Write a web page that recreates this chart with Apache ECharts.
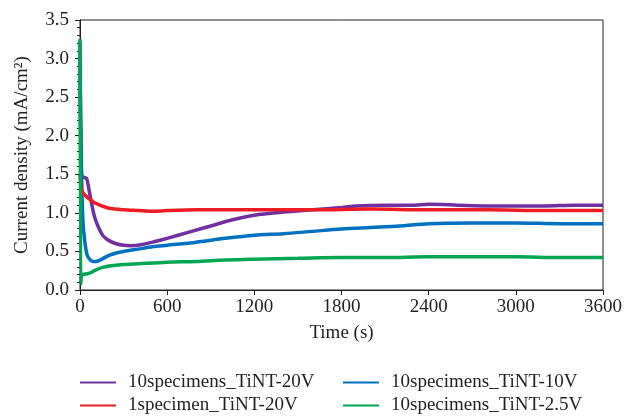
<!DOCTYPE html>
<html>
<head>
<meta charset="utf-8">
<script src="https://cdn.jsdelivr.net/npm/echarts@6/dist/echarts.min.js"></script>
<style>
html,body{margin:0;padding:0;background:#fff;}
#chart{width:625px;height:417px;}
</style>
</head>
<body>
<div id="chart"></div>
<script>
// ---- Data ----
const seriesNames = ['10specimens_TiNT-20V', '10specimens_TiNT-10V', '1specimen_TiNT-20V', '10specimens_TiNT-2.5V'];
const xTicks = [0, 600, 1200, 1800, 2400, 3000, 3600];
const yTicks = [0.0, 0.5, 1.0, 1.5, 2.0, 2.5, 3.0, 3.5];

const timePurple = [0, 10, 25, 45, 60, 80, 100, 130, 160, 200, 250, 300, 350, 400, 500, 600, 750, 900, 1050, 1200, 1400, 1600, 1800, 1900, 2100, 2300, 2400, 2600, 2800, 3000, 3200, 3400, 3600];
const valPurple  = [3.22, 1.5, 1.46, 1.45, 1.32, 1.12, 0.95, 0.8, 0.7, 0.64, 0.6, 0.58, 0.575, 0.58, 0.62, 0.67, 0.75, 0.83, 0.91, 0.97, 1.01, 1.04, 1.07, 1.09, 1.1, 1.1, 1.11, 1.1, 1.09, 1.09, 1.09, 1.1, 1.1];

const timeBlue = [0, 10, 20, 35, 50, 70, 90, 110, 130, 160, 200, 250, 300, 400, 500, 600, 800, 1000, 1200, 1400, 1600, 1800, 2000, 2200, 2400, 2700, 3000, 3300, 3600];
const valBlue  = [3.0, 1.6, 0.9, 0.6, 0.45, 0.39, 0.37, 0.37, 0.38, 0.41, 0.45, 0.48, 0.5, 0.53, 0.56, 0.58, 0.62, 0.67, 0.71, 0.73, 0.76, 0.79, 0.81, 0.83, 0.86, 0.87, 0.87, 0.86, 0.86];

const timeRed = [0, 10, 20, 40, 70, 100, 150, 200, 300, 400, 500, 600, 800, 1000, 1200, 1600, 2000, 2400, 2800, 3200, 3600];
const valRed  = [1.5, 1.3, 1.26, 1.22, 1.17, 1.13, 1.09, 1.06, 1.04, 1.03, 1.02, 1.03, 1.04, 1.04, 1.04, 1.04, 1.05, 1.04, 1.04, 1.03, 1.03];

const timeGreen = [0, 5, 10, 20, 50, 80, 110, 150, 200, 300, 400, 600, 800, 1000, 1200, 1500, 1800, 2100, 2400, 2700, 3000, 3300, 3600];
const valGreen  = [3.25, 0.08, 0.18, 0.2, 0.21, 0.23, 0.26, 0.29, 0.31, 0.33, 0.34, 0.36, 0.37, 0.39, 0.4, 0.41, 0.42, 0.42, 0.43, 0.43, 0.43, 0.42, 0.42];

const colors = ['#7030a0', '#0070c0', '#ee1c25', '#00a651'];

function pairs(t, v) { return t.map((x, i) => [x, v[i]]); }

const chart = echarts.init(document.getElementById('chart'), null, {renderer: 'canvas'});
const FONT = 'Liberation Serif';
const TXT = '#231f20';
const FS = 19;

const dataSets = [pairs(timePurple, valPurple), pairs(timeBlue, valBlue), pairs(timeRed, valRed), pairs(timeGreen, valGreen)];

// legend slots: [left, top] for each series name
const legendPos = [[80, 373], [343, 373], [80, 396], [343, 396]];

chart.setOption({
  animation: false,
  textStyle: {fontFamily: FONT},
  grid: {left: 80, right: 19, top: 20, bottom: 127, show: true, borderColor: '#231f20', borderWidth: 1, backgroundColor: 'transparent'},
  xAxis: {
    type: 'value', min: xTicks[0], max: xTicks[xTicks.length - 1], interval: 600,
    name: 'Time (s)', nameLocation: 'middle', nameGap: 34,
    nameTextStyle: {fontFamily: FONT, fontSize: FS, color: TXT},
    axisLine: {lineStyle: {color: '#231f20', width: 1}},
    axisTick: {show: true, length: 5, lineStyle: {color: '#231f20'}},
    axisLabel: {fontFamily: FONT, fontSize: FS, color: TXT, margin: 8, formatter: v => String(v)},
    splitLine: {show: false}
  },
  yAxis: {
    type: 'value', min: yTicks[0], max: yTicks[yTicks.length - 1], interval: 0.5,
    name: 'Current density (mA/cm\u00b2)', nameLocation: 'middle', nameGap: 48,
    nameTextStyle: {fontFamily: FONT, fontSize: FS, color: TXT},
    axisLine: {show: true, lineStyle: {color: '#231f20', width: 1}},
    axisTick: {show: true, length: 5, lineStyle: {color: '#231f20'}},
    minorTick: {show: true, splitNumber: 5, length: 3, lineStyle: {color: '#231f20'}},
    axisLabel: {fontFamily: FONT, fontSize: FS, color: TXT, margin: 11, formatter: v => v.toFixed(1)},
    splitLine: {show: false}
  },
  legend: seriesNames.map((n, i) => ({
    data: [n], orient: 'horizontal', left: legendPos[i][0], top: legendPos[i][1], padding: 0,
    icon: 'rect', itemWidth: 36, itemHeight: 2,
    textStyle: {fontFamily: FONT, fontSize: FS, color: TXT, padding: [0, 0, 0, 7]}
  })),
  series: seriesNames.map((n, i) => ({
    name: n, type: 'line', data: dataSets[i], symbol: 'none', smooth: 0.3,
    lineStyle: {color: colors[i], width: 3.5}, itemStyle: {color: colors[i]}, z: 2 + i
  }))
});
</script>
</body>
</html>
